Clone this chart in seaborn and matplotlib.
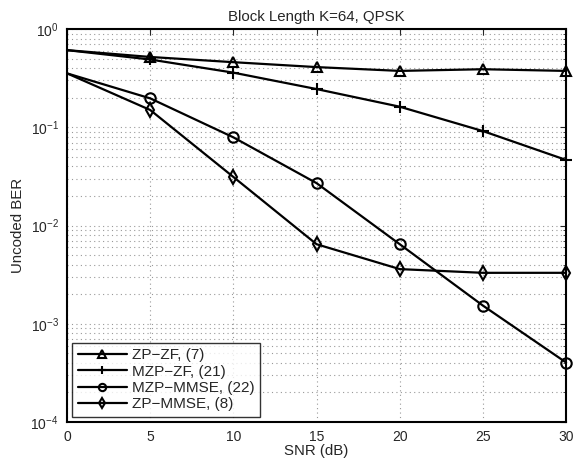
import numpy as np
import pandas as pd
import matplotlib
matplotlib.use("Agg")
import matplotlib.pyplot as plt
import seaborn as sns
from matplotlib.ticker import LogLocator, NullFormatter

snr = [0, 5, 10, 15, 20, 25, 30]
zp_zf = [0.61, 0.52, 0.46, 0.41, 0.375, 0.39, 0.375]
mzp_zf = [0.61, 0.49, 0.36, 0.245, 0.162, 0.0915, 0.0465]
mzp_mmse = [0.354, 0.197, 0.079, 0.027, 0.00645, 0.00153, 0.000403]
zp_mmse = [0.354, 0.15, 0.0312, 0.00645, 0.0036, 0.0033, 0.0033]
labels = ["ZP\u2212ZF, (7)", "MZP\u2212ZF, (21)", "MZP\u2212MMSE, (22)", "ZP\u2212MMSE, (8)"]
markers = ["^", "+", "o", "d"]

sns.set_style("white")
plt.rcParams['font.family'] = ['Liberation Sans', 'DejaVu Sans']
plt.rcParams['mathtext.fontset'] = 'custom'
plt.rcParams['mathtext.rm'] = 'Liberation Sans'

fig = plt.figure(figsize=(5.73, 4.65), dpi=100)
ax = fig.add_axes([0.117, 0.0925, 0.871, 0.845])

series = [zp_zf, mzp_zf, mzp_mmse, zp_mmse]
for vals, lab, mk in zip(series, labels, markers):
    df = pd.DataFrame({"snr": snr, "ber": vals})
    sns.lineplot(data=df, x="snr", y="ber", ax=ax, color="black", lw=1.6,
                 marker=mk, markersize=7.5 if mk != "+" else 9,
                 markerfacecolor="none" if mk != "+" else "black",
                 markeredgecolor="black", markeredgewidth=1.5, label=lab,
                 markevery=list(range(1, len(snr))), clip_on=False)

ax.set_yscale("log")
ax.set_xlim(0, 30)
ax.set_ylim(1e-4, 1)
ax.set_xticks([0, 5, 10, 15, 20, 25, 30])
ax.yaxis.set_major_locator(LogLocator(base=10, numticks=10))
ax.yaxis.set_minor_locator(LogLocator(base=10, subs=np.arange(2, 10), numticks=20))
ax.yaxis.set_minor_formatter(NullFormatter())
ax.tick_params(axis="both", which="both", direction="in", top=True, right=True, labelsize=10)
ax.tick_params(which="major", length=4, width=0.8, pad=6)
ax.tick_params(which="minor", length=2.5, width=0.6)
ax.grid(True, which="major", axis="both", linestyle=(0, (1, 3)), color="#999999", lw=0.8)
ax.grid(True, which="minor", axis="y", linestyle=(0, (1, 3)), color="#999999", lw=0.8)
for sp in ax.spines.values():
    sp.set_color("black")
    sp.set_linewidth(1.5)

ax.set_xlabel("SNR (dB)", fontsize=10.8, labelpad=0)
ax.set_ylabel("Uncoded BER", fontsize=10.8, labelpad=4)
ax.set_title("Block Length K=64, QPSK", fontsize=10.8, pad=6)

leg = ax.legend(loc="lower left", fontsize=11, frameon=True, fancybox=False,
                edgecolor="black", handlelength=3.2, borderaxespad=0.35,
                labelspacing=0.15, handletextpad=0.35, borderpad=0.35,
                markerscale=0.7)
leg.get_frame().set_linewidth(1.0)

fig.savefig("out.png", dpi=100)
